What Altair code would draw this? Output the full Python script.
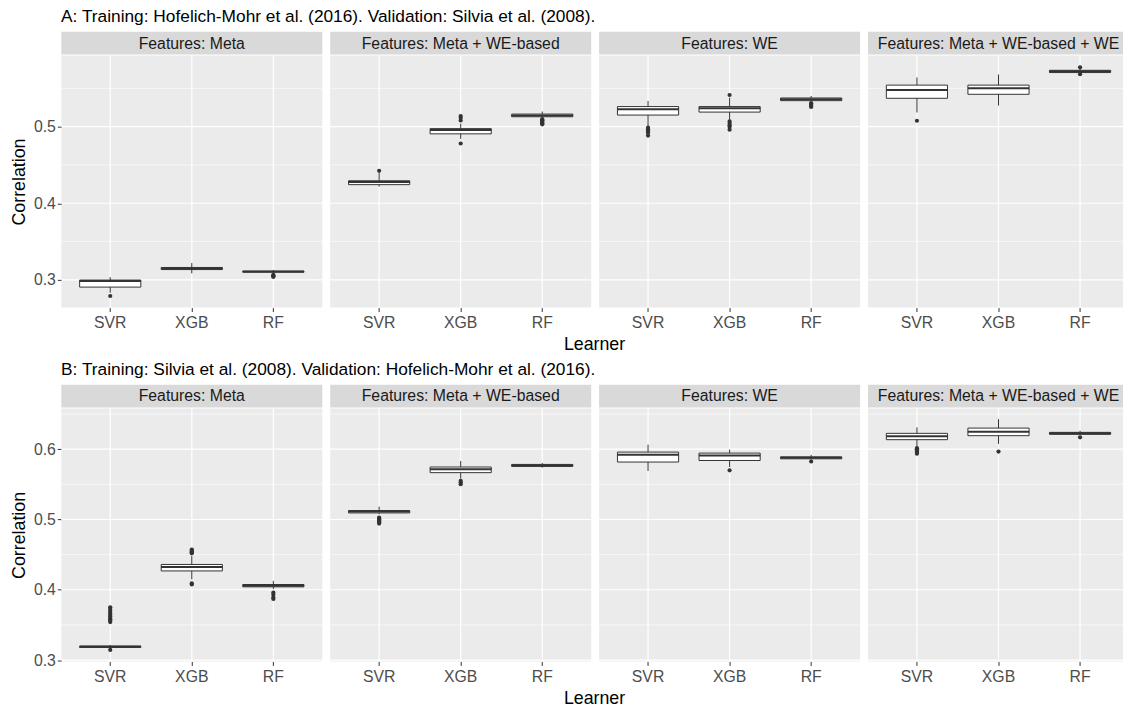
import altair as alt
import pandas as pd

FONT = "Liberation Sans"

learners = ["SVR", "XGB", "RF"]
feature_sets = ["Features: Meta", "Features: Meta + WE-based",
                "Features: WE", "Features: Meta + WE-based + WE"]

title_a = "A: Training: Hofelich-Mohr et al. (2016). Validation: Silvia et al. (2008)."
title_b = "B: Training: Silvia et al. (2008). Validation: Hofelich-Mohr et al. (2016)."

# ---- Row A box statistics (4 feature sets x 3 learners: SVR, XGB, RF) ----
a_lower = [0.2832, 0.3085, 0.3090,  0.4217, 0.4841, 0.5116,
           0.5004, 0.5090, 0.5326,  0.5185, 0.5275, 0.5697]
a_q1 = [0.2906, 0.3135, 0.3100,  0.4243, 0.4906, 0.5129,
        0.5151, 0.5190, 0.5339,  0.5370, 0.5422, 0.5706]
a_median = [0.2985, 0.3150, 0.3108,  0.4277, 0.4957, 0.5146,
            0.5228, 0.5241, 0.5357,  0.5477, 0.5500, 0.5722]
a_q3 = [0.2998, 0.3162, 0.3116,  0.4294, 0.4974, 0.5164,
        0.5262, 0.5262, 0.5374,  0.5542, 0.5542, 0.5735]
a_upper = [0.3035, 0.3220, 0.3130,  0.4394, 0.5039, 0.5197,
           0.5335, 0.5378, 0.5400,  0.5641, 0.5680, 0.5755]
a_outliers = [
    [0.2790], [], [0.3065, 0.3055, 0.3047, 0.3040],
    [0.4423], [0.5081, 0.5116, 0.5138, 0.4780],
    [0.5097, 0.5085, 0.5077, 0.5065, 0.5052, 0.5040, 0.5030],
    [0.4987, 0.4965, 0.4948, 0.4935, 0.4923, 0.4884],
    [0.5413, 0.5068, 0.5039, 0.5015, 0.5000, 0.4961],
    [0.5306, 0.5295, 0.5284, 0.5270, 0.5258],
    [0.5077], [], [0.5774, 0.5684],
]

# ---- Row B box statistics ----
b_lower = [0.3165, 0.4149, 0.4010,  0.5075, 0.5582, 0.5737,
           0.5690, 0.5746, 0.5848,  0.6028, 0.6075, 0.6197]
b_q1 = [0.3180, 0.4268, 0.4042,  0.5093, 0.5666, 0.5755,
        0.5817, 0.5839, 0.5863,  0.6135, 0.6192, 0.6211]
b_median = [0.3190, 0.4324, 0.4056,  0.5113, 0.5713, 0.5769,
            0.5920, 0.5910, 0.5877,  0.6183, 0.6248, 0.6225]
b_q3 = [0.3200, 0.4360, 0.4075,  0.5127, 0.5746, 0.5783,
        0.5958, 0.5944, 0.5891,  0.6225, 0.6300, 0.6239]
b_upper = [0.3215, 0.4479, 0.4127,  0.5183, 0.5831, 0.5803,
           0.6065, 0.5994, 0.5920,  0.6310, 0.6427, 0.6262]
b_outliers = [
    [0.3145, 0.3540, 0.3560, 0.3580, 0.3600, 0.3620, 0.3640, 0.3660, 0.3690, 0.3720, 0.3750],
    [0.4518, 0.4532, 0.4546, 0.4560, 0.4572, 0.4093, 0.4075],
    [0.3960, 0.3930, 0.3890, 0.3870],
    [0.5028, 0.5015, 0.5004, 0.4990, 0.4976, 0.4960, 0.4941],
    [0.5549, 0.5525, 0.5501],
    [],
    [], [0.5699], [0.5825],
    [0.6014, 0.6000, 0.5990, 0.5978, 0.5965, 0.5950, 0.5935],
    [0.5966], [0.6169],
]

a_ticks = [0.3, 0.4, 0.5]
a_minor = [0.35, 0.45, 0.55]
b_ticks = [0.3, 0.4, 0.5, 0.6]
b_minor = [0.35, 0.45, 0.55, 0.65]

PANEL_W = 264
LAST_W = 258
STRIP_H = 23
GRID = "#FFFFFF"
DARK = "#333333"


def make_panel(k, lower, q1, med, q3, upper, outliers, domain, ticks, minor,
               height, first):
    sl = slice(3 * k, 3 * k + 3)
    df = pd.DataFrame({"learner": learners, "lo": lower[sl], "q1": q1[sl],
                       "med": med[sl], "q3": q3[sl], "hi": upper[sl]})
    rows = []
    for j, lr in enumerate(learners):
        for v in outliers[3 * k + j]:
            rows.append({"learner": lr, "val": v})
    out_df = pd.DataFrame(rows, columns=["learner", "val"])

    width = LAST_W if k == 3 else PANEL_W
    xscale = alt.Scale(domain=learners, paddingInner=0, paddingOuter=0.1,
                       range=[0, PANEL_W])
    xaxis = alt.Axis(title=None, domain=False, grid=False, labelAngle=0,
                     tickColor=DARK, tickSize=4, tickWidth=1,
                     labelFontSize=16, labelColor="#4D4D4D", labelPadding=3,
                     labelFont=FONT)
    xenc = alt.X("learner:N", sort=learners, scale=xscale, axis=xaxis)
    yscale = alt.Scale(domain=domain, nice=False, zero=False)
    if first:
        yaxis = alt.Axis(title="Correlation", values=ticks, format=".1f",
                         grid=False, domain=False, tickColor=DARK, tickSize=4,
                         tickWidth=1, labelFontSize=16, labelColor="#4D4D4D",
                         labelPadding=2, titleFontSize=18, titleColor="black",
                         titleFontWeight="normal", titlePadding=5,
                         labelFont=FONT, titleFont=FONT)
    else:
        yaxis = None

    def Y(field):
        return alt.Y(field, scale=yscale, axis=yaxis, title="Correlation")

    minor_l = alt.Chart(pd.DataFrame({"v": minor})).mark_rule(
        color=GRID, strokeWidth=0.6).encode(y=Y("v:Q"))
    major_l = alt.Chart(pd.DataFrame({"v": ticks})).mark_rule(
        color=GRID, strokeWidth=1.2).encode(y=Y("v:Q"))
    vgrid = alt.Chart(df).mark_rule(color=GRID, strokeWidth=1.2).encode(x=xenc)
    whisk = alt.Chart(df).mark_rule(color=DARK, strokeWidth=1).encode(
        x=xenc, y=Y("lo:Q"), y2="hi:Q")
    box = alt.Chart(df).mark_bar(width=alt.RelativeBandSize(0.75), fill="white",
                                 stroke=DARK, strokeWidth=1).encode(
        x=xenc, y=Y("q1:Q"), y2="q3:Q")
    medl = alt.Chart(df).mark_tick(color=DARK, thickness=2, size=62,
                                   opacity=1).encode(x=xenc, y=Y("med:Q"))
    pts = alt.Chart(out_df).mark_circle(color=DARK, size=18, opacity=1).encode(
        x=xenc, y=Y("val:Q"))

    plot = alt.layer(minor_l, major_l, vgrid, whisk, box, medl, pts).properties(
        width=width, height=height,
        view=alt.ViewBackground(fill="#EBEBEB", stroke=None))

    strip = alt.Chart(pd.DataFrame({"label": [feature_sets[k]]})).mark_text(
        font=FONT, fontSize=16, color="#1A1A1A", baseline="middle",
        align="center").encode(
        text="label:N", x=alt.value(PANEL_W / 2), y=alt.value(12)).properties(
        width=width, height=STRIP_H,
        view=alt.ViewBackground(fill="#D9D9D9", stroke=None))
    return alt.vconcat(strip, plot, spacing=0)


def make_row(title, lower, q1, med, q3, upper, outliers, domain, ticks, minor,
             height):
    panels = [make_panel(k, lower, q1, med, q3, upper, outliers, domain, ticks,
                         minor, height, k == 0) for k in range(4)]
    inner = alt.hconcat(*panels, spacing=6).properties(
        title=alt.TitleParams("Learner", orient="bottom", anchor="middle",
                              fontSize=18, font=FONT, fontWeight="normal",
                              color="black", dx=25, offset=6))
    return alt.vconcat(inner, spacing=0).properties(
        title=alt.TitleParams(title, anchor="start", fontSize=17.5, font=FONT,
                              fontWeight="normal", color="black", dx=51,
                              offset=6))


row_a = make_row(title_a, a_lower, a_q1, a_median, a_q3, a_upper, a_outliers,
                 [0.2639, 0.5929], a_ticks, a_minor, 255)
row_b = make_row(title_b, b_lower, b_q1, b_median, b_q3, b_upper, b_outliers,
                 [0.298, 0.658], b_ticks, b_minor, 256)

chart = alt.vconcat(row_a, row_b, spacing=7).properties(
    padding={"left": 10, "top": 4, "right": 0, "bottom": 0},
    background="white",
).configure_view(stroke=None).configure(font=FONT)

chart.save("out.html", embed_options={"renderer": "svg", "actions": False})
